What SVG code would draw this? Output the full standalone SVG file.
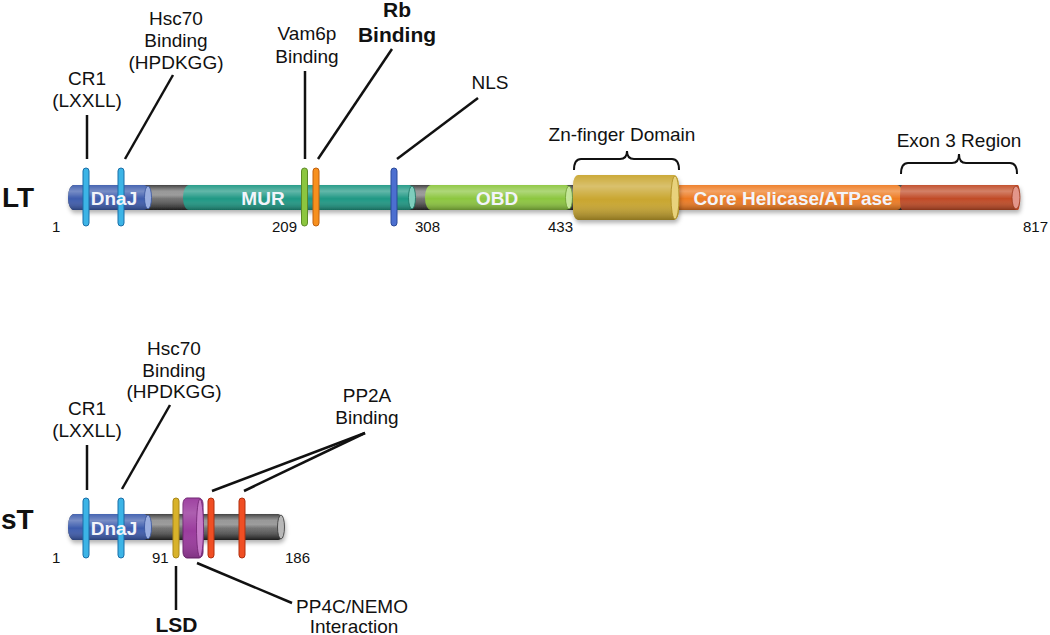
<svg xmlns="http://www.w3.org/2000/svg" width="1050" height="635" viewBox="0 0 1050 635">
  <defs>
    <linearGradient id="shade" x1="0" y1="0" x2="0" y2="1">
      <stop offset="0" stop-color="#ffffff" stop-opacity="0.05"/>
      <stop offset="0.25" stop-color="#ffffff" stop-opacity="0.3"/>
      <stop offset="0.55" stop-color="#ffffff" stop-opacity="0"/>
      <stop offset="1" stop-color="#000000" stop-opacity="0.3"/>
    </linearGradient>
    <linearGradient id="grayg" x1="0" y1="0" x2="0" y2="1">
      <stop offset="0" stop-color="#3a3a3a"/>
      <stop offset="0.4" stop-color="#8c8c8c"/>
      <stop offset="1" stop-color="#2a2a2a"/>
    </linearGradient>
    <filter id="sh" x="-5%" y="-30%" width="110%" height="180%">
      <feDropShadow dx="1" dy="3" stdDeviation="2" flood-color="#000" flood-opacity="0.3"/>
    </filter>
    <style>
      .lbl { font-family: "Liberation Sans", Arial, sans-serif; font-size: 19px; fill: #111; text-anchor: middle; }
      .bold { font-weight: bold; font-size: 21px; }
      .num { font-family: "Liberation Sans", Arial, sans-serif; font-size: 15px; fill: #111; }
      .prot { font-family: "Liberation Sans", Arial, sans-serif; font-size: 28px; font-weight: bold; fill: #111; }
      .dom { font-family: "Liberation Sans", Arial, sans-serif; font-size: 19px; font-weight: bold; fill: #f2f4fa; text-anchor: middle; }
      .ln { stroke: #111; stroke-width: 2.5; fill: none; }
      .br { stroke: #111; stroke-width: 2; fill: none; }
      .stb { fill: #3cb4e6; stroke: #1b6fa8; stroke-width: 1; }
    </style>
  </defs>

  <!-- LT protein -->
  <g id="LT">
    <text class="prot" x="2" y="207">LT</text>
    <g id="LT-bar" filter="url(#sh)">
      <rect x="68" y="185" width="952" height="25" rx="6" ry="12" fill="url(#grayg)"/>
      <rect x="68" y="185" width="82" height="25" rx="6" ry="12" fill="#3d5cad"/>
      <rect x="183" y="185" width="232" height="25" rx="6" ry="12" fill="#1f9884"/>
      <rect x="425" y="185" width="147" height="25" rx="6" ry="12" fill="#8cc63f"/>
      <rect x="673" y="185" width="230" height="25" rx="6" ry="12" fill="#ee7b22"/>
      <rect x="900" y="185" width="120" height="25" rx="2" ry="12" fill="#c04a26"/>
      <rect x="68" y="185" width="952" height="25" rx="6" ry="12" fill="url(#shade)"/>
      <ellipse cx="148" cy="197.5" rx="3.5" ry="11.5" fill="#9aaee0" stroke="#34509a" stroke-width="0.8"/>
      <ellipse cx="412" cy="197.5" rx="3.5" ry="11.5" fill="#7ecdbd" stroke="#17705f" stroke-width="0.8"/>
      <ellipse cx="569" cy="197.5" rx="3.5" ry="11.5" fill="#c5e69a" stroke="#6a9a2c" stroke-width="0.8"/>
      <ellipse cx="1016" cy="197.5" rx="4" ry="11.5" fill="#e3968a" stroke="#9a3a1e" stroke-width="0.8"/>
    </g>
    <g id="Zn-finger" filter="url(#sh)">
      <rect x="573" y="175" width="106" height="45" rx="5" ry="10" fill="#c9a62f"/>
      <rect x="573" y="175" width="106" height="45" rx="5" ry="10" fill="url(#shade)"/>
      <ellipse cx="675" cy="197.5" rx="4" ry="21.5" fill="#e8d27c" stroke="#a8891f" stroke-width="0.8"/>
    </g>
    <g id="LT-motifs">
      <rect class="stb" x="83" y="168" width="6" height="58" rx="3"/>
      <rect class="stb" x="118" y="168" width="6" height="58" rx="3"/>
      <rect x="301.5" y="168" width="6" height="58" rx="3" fill="#8cc63f" stroke="#5d8a27" stroke-width="1"/>
      <rect x="313" y="168" width="6" height="58" rx="3" fill="#f7901e" stroke="#c0600e" stroke-width="1"/>
      <rect x="391" y="168" width="6" height="58" rx="3" fill="#4c6fd0" stroke="#2b4a9a" stroke-width="1"/>
    </g>
    <text class="dom" x="114" y="205">DnaJ</text>
    <text class="dom" x="263" y="205">MUR</text>
    <text class="dom" x="497" y="205">OBD</text>
    <text class="dom" x="793" y="205">Core Helicase/ATPase</text>
    <text class="num" x="52" y="232">1</text>
    <text class="num" x="272" y="232">209</text>
    <text class="num" x="415" y="232">308</text>
    <text class="num" x="548" y="232">433</text>
    <text class="num" x="1023" y="232">817</text>
  </g>

  <g id="LT-labels">
    <text class="lbl" x="87" y="85">CR1</text>
    <text class="lbl" x="87" y="107">(LXXLL)</text>
    <text class="lbl" x="176" y="25">Hsc70</text>
    <text class="lbl" x="176" y="47">Binding</text>
    <text class="lbl" x="176" y="69">(HPDKGG)</text>
    <text class="lbl" x="307" y="40">Vam6p</text>
    <text class="lbl" x="307" y="63">Binding</text>
    <text class="lbl bold" x="397" y="17">Rb</text>
    <text class="lbl bold" x="397" y="42">Binding</text>
    <text class="lbl" x="490" y="89">NLS</text>
    <text class="lbl" x="622" y="141">Zn-finger Domain</text>
    <text class="lbl" x="959" y="147">Exon 3 Region</text>
  </g>

  <!-- sT protein -->
  <g id="sT">
    <text class="prot" x="1" y="529">sT</text>
    <g id="sT-bar" filter="url(#sh)">
      <rect x="68" y="514" width="216" height="26" rx="6" ry="12" fill="url(#grayg)"/>
      <rect x="68" y="514" width="82" height="26" rx="6" ry="12" fill="#3d5cad"/>
      <rect x="68" y="514" width="216" height="26" rx="6" ry="12" fill="url(#shade)"/>
      <ellipse cx="148" cy="527" rx="3.5" ry="12" fill="#9aaee0" stroke="#34509a" stroke-width="0.8"/>
      <ellipse cx="281" cy="527" rx="3.5" ry="12" fill="#b8b8b8" stroke="#333" stroke-width="0.8"/>
    </g>
    <g id="sT-motifs">
      <rect class="stb" x="83" y="498" width="6" height="60" rx="3"/>
      <rect class="stb" x="118" y="498" width="6" height="60" rx="3"/>
      <rect x="173" y="498" width="6" height="60" rx="3" fill="#d8b22a" stroke="#a8871a" stroke-width="1"/>
      <g id="PP4C-site">
        <rect x="183" y="498" width="20" height="60" rx="4" ry="6" fill="#9b3c9e" stroke="#6e2270" stroke-width="1"/>
        <rect x="183" y="498" width="20" height="60" rx="4" ry="6" fill="url(#shade)" opacity="0.6"/>
        <ellipse cx="200" cy="528" rx="3.5" ry="29" fill="#c77bc9" stroke="#6e2270" stroke-width="0.8"/>
      </g>
      <rect x="208" y="498" width="6" height="60" rx="3" fill="#f04e23" stroke="#b03010" stroke-width="1"/>
      <rect x="239" y="498" width="6" height="60" rx="3" fill="#f04e23" stroke="#b03010" stroke-width="1"/>
    </g>
    <text class="dom" x="114" y="535">DnaJ</text>
    <text class="num" x="52" y="563">1</text>
    <text class="num" x="152" y="563">91</text>
    <text class="num" x="285" y="563">186</text>
  </g>

  <g id="sT-labels">
    <text class="lbl" x="87" y="415">CR1</text>
    <text class="lbl" x="87" y="437">(LXXLL)</text>
    <text class="lbl" x="174" y="355">Hsc70</text>
    <text class="lbl" x="174" y="377">Binding</text>
    <text class="lbl" x="174" y="398">(HPDKGG)</text>
    <text class="lbl" x="367" y="402">PP2A</text>
    <text class="lbl" x="367" y="424">Binding</text>
    <text class="lbl bold" x="176.5" y="632">LSD</text>
    <text class="lbl" x="352" y="613">PP4C/NEMO</text>
    <text class="lbl" x="354" y="633">Interaction</text>
  </g>

  <g id="connectors">
    <line class="ln" x1="87" y1="115" x2="87" y2="159"/>
    <line class="ln" x1="173" y1="75" x2="125" y2="159"/>
    <line class="ln" x1="305" y1="71" x2="305" y2="159"/>
    <line class="ln" x1="392" y1="49" x2="318" y2="159"/>
    <line class="ln" x1="478" y1="98" x2="397" y2="159"/>
    <path class="br" d="M574,170 Q574,159 581,159 L620,159 Q627,159 627,151 Q627,159 634,159 L672,159 Q679,159 679,170"/>
    <path class="br" d="M901,174 Q901,163 908,163 L952,163 Q959,163 959,154 Q959,163 966,163 L1010,163 Q1017,163 1017,174"/>
    <line class="ln" x1="87" y1="445" x2="87" y2="490"/>
    <line class="ln" x1="170" y1="405" x2="122" y2="489"/>
    <line class="ln" x1="365" y1="433" x2="212" y2="491"/>
    <line class="ln" x1="365" y1="433" x2="244" y2="491"/>
    <line class="ln" x1="176" y1="566" x2="176" y2="610"/>
    <line class="ln" x1="197" y1="563" x2="292" y2="603"/>
  </g>
</svg>
